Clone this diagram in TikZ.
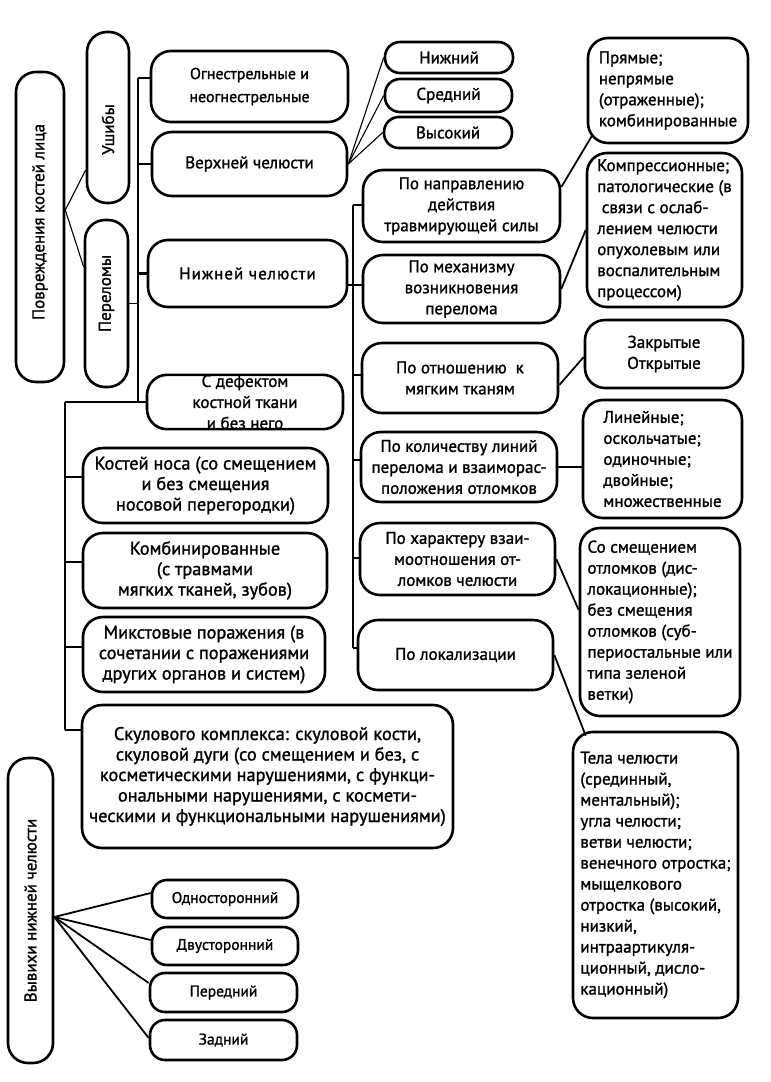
\documentclass[tikz,border=0pt]{standalone}
\usepackage{fontspec}
\setmainfont{PT Sans}[FakeBold=1.3]
\newcommand{\myfs}{\fontsize{17}{21}\selectfont}
\newcommand{\bigfs}{\fontsize{18.3}{20.5}\selectfont}
\newcommand{\smallfs}{\fontsize{15.5}{20}\selectfont}
\tikzset{
  box/.style={draw, line width=2.6pt, rounded corners=20pt, inner sep=0pt, align=center, font=\myfs},
  lbox/.style={box, align=left},
  sbox/.style={box, rounded corners=15pt},
  vtext/.style={rotate=90, font=\myfs, inner sep=0pt},
  thin1/.style={line width=1.1pt},
  mid1/.style={line width=1.8pt},
  trunk/.style={line width=2.6pt},
}
\begin{document}
\begin{tikzpicture}[x=1pt,y=-1pt]
\useasboundingbox[fill=white] (0,0) rectangle (771,1082);

% ---- left column
\node[box, minimum width=48pt, minimum height=310pt] (pov) at (40,227) {};
\node[vtext] at ([yshift=5pt]pov.center) {Повреждения костей лица};
\node[box, minimum width=42pt, minimum height=171pt] (ush) at (108,117.5) {};
\node[vtext] at ([yshift=-12pt]ush.center) {Ушибы};
\node[box, minimum width=43pt, minimum height=167pt] (per) at (106.5,303.5) {};
\node[vtext] at ([yshift=10pt]per.center) {Переломы};

\draw[thin1] ([yshift=17pt]pov.east) -- ([yshift=-52.5pt]ush.west);
\draw[thin1] ([yshift=17pt]pov.east) -- ([yshift=36.5pt]per.west);

% ---- second column
\node[box, minimum width=197pt, minimum height=71pt, font=\fontsize{16}{23}\selectfont] (ogn) at (249.5,86.5) {Огнестрельные и\\неогнестрельные};
\node[box, minimum width=195pt, minimum height=64pt] (ver) at (249.5,164) {Верхней челюсти};
\node[box, minimum width=199pt, minimum height=67pt, font={\myfs\addfontfeature{LetterSpace=6}}] (nizh) at (247.5,273.5) {Нижней челюсти};
\node[box, minimum width=196pt, minimum height=54pt] (def) at (245,402) {С дефектом\\костной ткани\\и без него};

\coordinate (A0) at (138,78);
\coordinate (A4) at (138,402);
\draw[trunk] (A0) -- (A4);
\draw[trunk] (A0) -- (ogn.west |- A0);
\draw[trunk] (ver.west -| A0) -- (ver.west);
\draw[trunk] (nizh.west -| A0) -- (nizh.west);
\draw[mid1] (per.east) -- (per.east -| A0);

% ---- lower-left group
\node[box, minimum width=245pt, minimum height=75pt, font=\bigfs] (nos) at (205.5,485.5) {Костей носа (со смещением\\и без смещения\\носовой перегородки)};
\node[box, minimum width=244pt, minimum height=75pt, font=\bigfs] (komb) at (205,570.5) {Комбинированные\\(с травмами\\мягких тканей, зубов)};
\node[box, minimum width=242pt, minimum height=75pt, font=\bigfs] (mikst) at (204,654.5) {Микстовые поражения (в\\сочетании с поражениями\\других органов и систем)};
\node[box, minimum width=371pt, minimum height=143pt, font=\bigfs] (skul) at (267.5,776.5) {Скулового комплекса: скуловой кости,\\скуловой дуги (со смещением и без, с\\косметическими нарушениями, с функци-\\ональными нарушениями, с космети-\\ческими и функциональными нарушениями)};

\coordinate (B0) at (65,402);
\coordinate (B1) at (65,477);
\coordinate (B2) at (65,562);
\coordinate (B3) at (65,647);
\coordinate (B4) at (65,730);
\draw[mid1] (B0) -- (B4);
\draw[mid1] (B0) -- (def.west);
\draw[mid1] (B1) -- (nos.west |- B1);
\draw[mid1] (B2) -- (komb.west |- B2);
\draw[mid1] (B3) -- (mikst.west |- B3);
\draw[mid1] (B4) -- (skul.west |- B4);

% ---- upper-jaw levels
\node[sbox, minimum width=128pt, minimum height=31pt] (n1) at (449,57.5) {Нижний};
\node[sbox, minimum width=127pt, minimum height=33pt] (n2) at (448.5,95.5) {Средний};
\node[sbox, minimum width=128pt, minimum height=31pt] (n3) at (448,132.5) {Высокий};
\draw[thin1] (ver.east) -- (n1.west);
\draw[thin1] (ver.east) -- (n2.west);
\draw[thin1] (ver.east) -- (n3.west);

% ---- lower-jaw criteria
\node[box, minimum width=197pt, minimum height=72pt] (napr) at (461.5,206) {По направлению\\действия\\травмирующей силы};
\node[box, minimum width=197pt, minimum height=68pt] (mekh) at (461.5,289) {По механизму\\возникновения\\перелома};
\node[box, minimum width=196pt, minimum height=70pt] (otn) at (460,378) {По отношению\ \ к\\мягким тканям};
\node[box, minimum width=196pt, minimum height=70pt] (kol) at (459,467) {По количеству линий\\перелома и взаиморас-\\положения отломков};
\node[box, minimum width=195pt, minimum height=72pt] (khar) at (457.5,559) {По характеру взаи-\\моотношения от-\\ломков челюсти};
\node[box, minimum width=195pt, minimum height=70pt] (lok) at (455.5,655) {По локализации};

\coordinate (C0) at (353,205);
\coordinate (C1) at (353,285);
\coordinate (C2) at (353,375);
\coordinate (C3) at (353,460);
\coordinate (C4) at (353,558);
\coordinate (C5) at (353,648);
\draw[trunk] (C0) -- (C5);
\draw[trunk] (C0) -- (napr.west |- C0);
\draw[trunk] (nizh.east |- C1) -- (mekh.west |- C1);
\draw[trunk] (C2) -- (otn.west |- C2);
\draw[trunk] (C3) -- (kol.west |- C3);
\draw[trunk] (C4) -- (khar.west |- C4);
\draw[trunk] (C5) -- (lok.west |- C5);

% ---- right column
\node[lbox, minimum width=160pt, minimum height=105pt] (pr) at (668,90.5) {Прямые;\\непрямые\\(отраженные);\\комбинированные};
\node[lbox, minimum width=155pt, minimum height=154pt] (komp) at (664.5,230) {Компрессионные;\\патологические (в\\\ связи с ослаб-\\лением челюсти\\опухолевым или\\воспалительным\\процессом)};
\node[box, minimum width=158pt, minimum height=68pt] (zak) at (664,354) {Закрытые\\Открытые};
\node[lbox, minimum width=159pt, minimum height=118pt] (lin) at (662.5,459) {Линейные;\\оскольчатые;\\одиночные;\\двойные;\\множественные};
\node[lbox, minimum width=160pt, minimum height=188pt] (sm) at (660,622) {Со смещением\\отломков (дис-\\локационные);\\без смещения\\отломков (суб-\\периостальные или\\типа зеленой\\ветки)};
\node[lbox, minimum width=165pt, minimum height=286pt] (tela) at (655.5,875) {Тела челюсти\\(срединный,\\ментальный);\\угла челюсти;\\ветви челюсти;\\венечного отростка;\\мыщелкового\\отростка (высокий,\\низкий,\\интраартикуля-\\ционный, дисло-\\кационный)};

\draw[mid1] ([yshift=19pt]napr.east) -- ([shift={(5pt,8pt)}]pr.south west);
\draw[mid1] (mekh.east) -- (komp.west);
\draw[mid1] ([yshift=-7pt]otn.east) -- ([yshift=-3pt]zak.west);
\draw[trunk] (kol.east) -- (lin.west |- kol.east);
\draw[mid1] (khar.east) -- ([yshift=12pt]sm.west);
\draw[mid1] (lok.east) -- ([shift={(14pt,-5pt)}]tela.north west);

% ---- dislocations
\node[box, minimum width=45pt, minimum height=305pt] (vyv) at (30.5,910.5) {};
\node[vtext] at (vyv.center) {Вывихи нижней челюсти};
\node[sbox, minimum width=146pt, minimum height=38pt, font=\smallfs] (odn) at (225,899) {Односторонний};
\node[sbox, minimum width=146pt, minimum height=38pt, font=\smallfs] (dvu) at (225,946) {Двусторонний};
\node[sbox, minimum width=147pt, minimum height=39pt, font=\smallfs] (pered) at (223.5,992.5) {Передний};
\node[sbox, minimum width=147pt, minimum height=40pt, font=\smallfs] (zad) at (223.5,1040) {Задний};
\draw[mid1] ([yshift=-6.5pt]vyv.east) -- ([yshift=6pt]odn.west);
\draw[mid1] ([yshift=-6.5pt]vyv.east) -- ([yshift=6pt]dvu.west);
\draw[mid1] ([yshift=-6.5pt]vyv.east) -- ([yshift=9.5pt]pered.west);
\draw[mid1] ([yshift=-6.5pt]vyv.east) -- ([yshift=2pt]zad.west);
\end{tikzpicture}
\end{document}
